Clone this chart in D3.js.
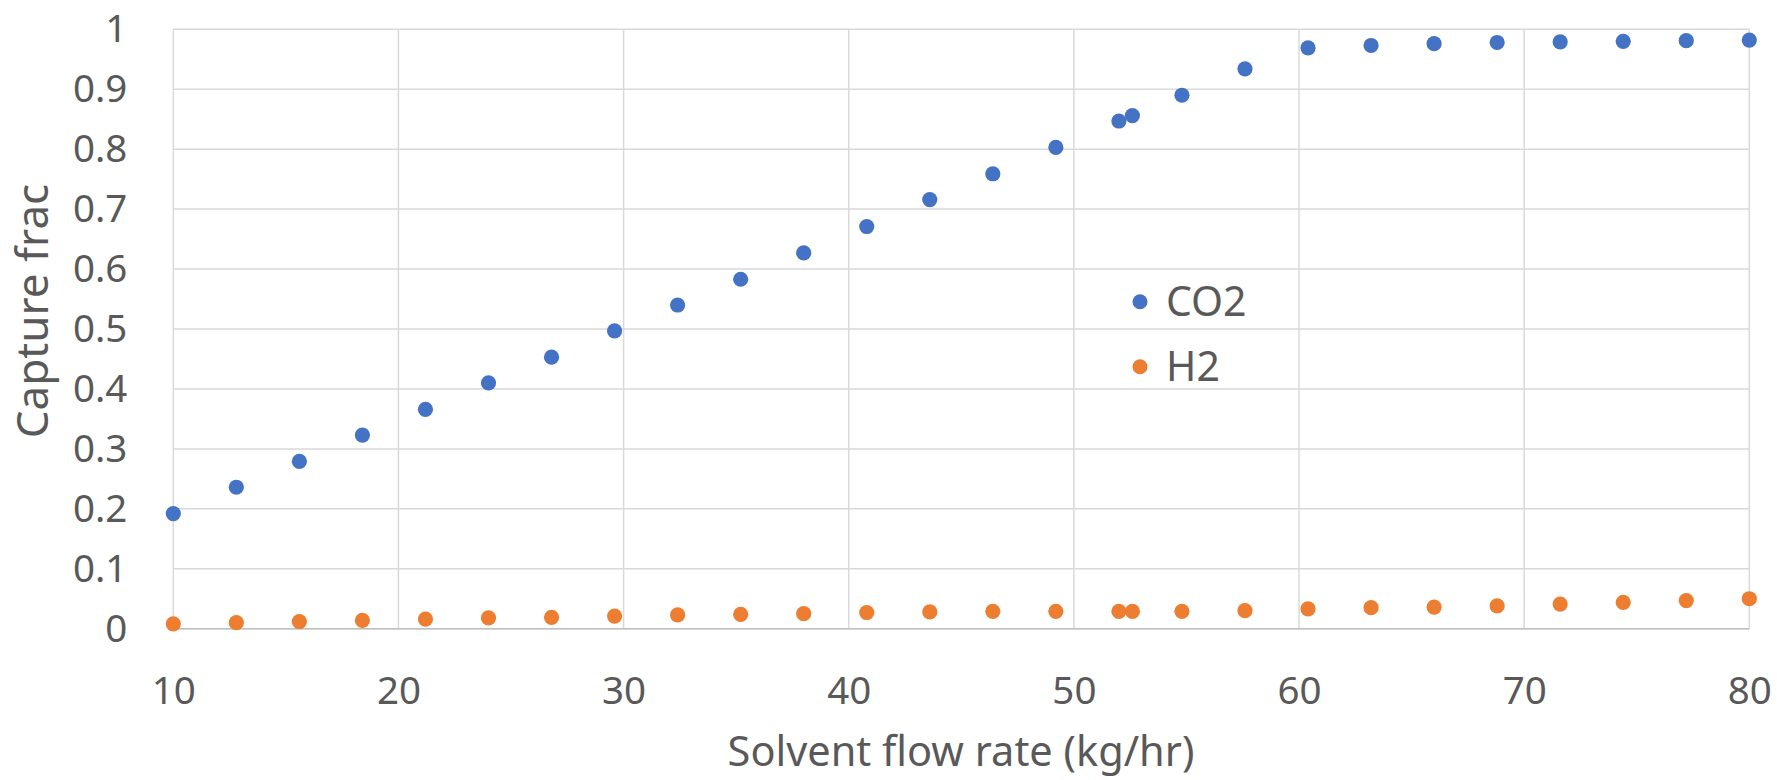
<!DOCTYPE html>
<html><head><meta charset="utf-8">
<script src="https://cdn.jsdelivr.net/npm/d3@7"></script>
<style>html,body{margin:0;padding:0;background:#fff;}</style>
</head><body>
<svg id="chart" width="1777" height="780"></svg>
<script>
const flowRate = [10,12.8,15.6,18.4,21.2,24,26.8,29.6,32.4,35.2,38,40.8,43.6,46.4,49.2,52,52.6,54.8,57.6,60.4,63.2,66,68.8,71.6,74.4,77.2,80];
const co2Capture = [0.192,0.236,0.279,0.323,0.366,0.410,0.453,0.497,0.540,0.583,0.627,0.671,0.716,0.759,0.803,0.847,0.856,0.890,0.934,0.969,0.973,0.976,0.978,0.979,0.980,0.981,0.982];
const h2Capture = [0.008,0.010,0.012,0.014,0.016,0.018,0.019,0.021,0.023,0.024,0.025,0.027,0.028,0.029,0.029,0.029,0.029,0.029,0.030,0.033,0.035,0.036,0.038,0.041,0.044,0.047,0.050];
const seriesNames = ["CO2","H2"];
const seriesColors = ["#4472C4","#ED7D31"];
const xTicks = [10,20,30,40,50,60,70,80];
const yTicks = [0,0.1,0.2,0.3,0.4,0.5,0.6,0.7,0.8,0.9,1];
const xTitle = "Solvent flow rate (kg/hr)";
const yTitle = "Capture frac";

const svg = d3.select("#chart");
const L = 173.3, R = 1749.3, T = 29.3, B = 628.7;
const x = d3.scaleLinear().domain([10,80]).range([L,R]);
const y = d3.scaleLinear().domain([0,1]).range([B,T]);
const font = "'Noto Sans', 'Open Sans', sans-serif";
const textColor = "#595959";

// gridlines
svg.append("g").selectAll("line").data(yTicks).join("line")
  .attr("x1",L).attr("x2",R).attr("y1",d=>y(d)).attr("y2",d=>y(d))
  .attr("stroke","#d9d9d9").attr("stroke-width",1.5);
svg.append("g").selectAll("line").data(xTicks).join("line")
  .attr("y1",T).attr("y2",B).attr("x1",d=>x(d)).attr("x2",d=>x(d))
  .attr("stroke","#d9d9d9").attr("stroke-width",1.5);
// bottom axis line
svg.append("line").attr("x1",L).attr("x2",R).attr("y1",B).attr("y2",B)
  .attr("stroke","#bfbfbf").attr("stroke-width",1.5);

// axes via d3
const yAxis = d3.axisLeft(y).tickValues(yTicks).tickFormat(d3.format("~g")).tickSize(0).tickPadding(46);
const gy = svg.append("g").attr("transform",`translate(${L},0)`).call(yAxis);
gy.select(".domain").remove();
gy.selectAll("text").attr("font-family",font).attr("font-size",38.5).attr("fill",textColor);

const xAxis = d3.axisBottom(x).tickValues(xTicks).tickFormat(d3.format("d")).tickSize(0).tickPadding(48);
const gx = svg.append("g").attr("transform",`translate(0,${B})`).call(xAxis);
gx.select(".domain").remove();
gx.selectAll("text").attr("font-family",font).attr("font-size",38.5).attr("fill",textColor);

// titles
svg.append("text").attr("x",961).attr("y",751).attr("dy","0.35em")
  .attr("text-anchor","middle").attr("font-family",font).attr("font-size",41.5)
  .attr("fill",textColor).text(xTitle);
svg.append("text").attr("transform",`translate(33,311) rotate(-90)`).attr("dy","0.35em")
  .attr("text-anchor","middle").attr("font-family",font).attr("font-size",44)
  .attr("fill",textColor).text(yTitle);

// points
const series = [co2Capture, h2Capture];
series.forEach((vals,i)=>{
  svg.append("g").selectAll("circle").data(flowRate.map((f,j)=>[f,vals[j]])).join("circle")
    .attr("cx",d=>x(d[0])).attr("cy",d=>y(d[1])).attr("r",7.6)
    .attr("fill",seriesColors[i]);
});

// legend
const legY = [301.7, 366.7];
seriesNames.forEach((n,i)=>{
  svg.append("circle").attr("cx",1140).attr("cy",legY[i]).attr("r",7.5).attr("fill",seriesColors[i]);
  svg.append("text").attr("x",1166).attr("y",legY[i]).attr("dy","0.35em")
    .attr("font-family",font).attr("font-size",41).attr("fill",textColor).text(n);
});
</script>
</body></html>
